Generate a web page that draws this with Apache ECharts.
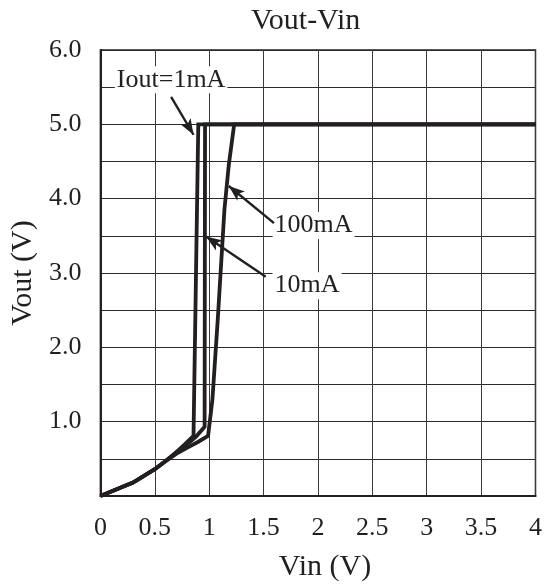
<!DOCTYPE html>
<html>
<head>
<meta charset="utf-8">
<script src="https://cdn.jsdelivr.net/npm/echarts@6/dist/echarts.min.js"></script>
<style>html,body{margin:0;padding:0;background:#fff}#c{width:545px;height:587px}</style>
</head>
<body>
<div id="c"></div>
<script>
// Vin / Vout values for each output current
const vin1mA   = [0, 0.1, 0.2, 0.3, 0.4, 0.5, 0.6, 0.65, 0.72, 0.78, 0.856, 0.9, 4.0];
const vout1mA  = [0, 0.06, 0.12, 0.18, 0.27, 0.36, 0.47, 0.53, 0.62, 0.70, 0.81, 5.0, 5.0];
const vin10mA  = [0, 0.1, 0.2, 0.3, 0.4, 0.5, 0.6, 0.65, 0.72, 0.8, 0.88, 0.958, 0.962, 4.0];
const vout10mA = [0, 0.06, 0.12, 0.18, 0.27, 0.36, 0.47, 0.53, 0.61, 0.70, 0.80, 0.93, 5.0, 5.0];
const vin100mA  = [0, 0.1, 0.2, 0.3, 0.4, 0.5, 0.6, 0.7, 0.8, 0.9, 0.99, 1.03, 1.08, 1.14, 1.18, 1.23, 4.0];
const vout100mA = [0, 0.06, 0.12, 0.18, 0.27, 0.36, 0.47, 0.57, 0.65, 0.73, 0.81, 1.3, 2.4, 3.85, 4.45, 5.0, 5.0];

const xTicks = ['0','0.5','1','1.5','2','2.5','3','3.5','4'];
const yTicks = ['1.0','2.0','3.0','4.0','5.0','6.0'];

// annotations (data space)
const noteText  = ['Iout=1mA', '100mA', '10mA'];
const noteX     = [0.65, 1.96, 1.90];
const noteY     = [5.60, 3.64, 2.83];
const arrowFromX = [0.65, 1.596, 1.52];
const arrowFromY = [5.37, 3.67, 2.95];
const arrowToX   = [0.856, 1.18, 0.971];
const arrowToY   = [4.86, 4.17, 3.49];

const FONT = '"Liberation Serif","Times New Roman",serif';
const INK = '#231f20';

function zip(a, b) { return a.map((v, i) => [v, b[i]]); }

const chart = echarts.init(document.getElementById('c'), null, {renderer: 'canvas'});

const curveStyle = {type: 'line', showSymbol: false, symbol: 'none', smooth: false,
  lineStyle: {color: INK, width: 3.8, join: 'miter'}, z: 5, silent: true};

chart.setOption({
  animation: false,
  backgroundColor: '#fff',
  title: {text: 'Vout-Vin', left: 246, top: 1,
    textStyle: {fontFamily: FONT, fontSize: 30, fontWeight: 'normal', color: INK}},
  grid: {left: 95.5, top: 50, right: 8, bottom: 90, show: true, borderColor: INK, borderWidth: 1.5, containLabel: false},
  xAxis: {type: 'value', min: 0, max: 4, interval: 0.5,
    name: 'Vin (V)', nameLocation: 'middle', nameGap: 56,
    nameTextStyle: {fontFamily: FONT, fontSize: 30, color: INK, padding: [0, 0, 0, 14]},
    axisLine: {show: true, lineStyle: {color: INK, width: 2}},
    axisTick: {show: false},
    axisLabel: {fontFamily: FONT, fontSize: 26, color: INK, margin: 19,
      formatter: v => { const s = xTicks.find(t => Math.abs(parseFloat(t) - v) < 1e-6); return s === undefined ? '' : s; }},
    splitLine: {show: true, lineStyle: {color: '#3a3a3a', width: 1}}},
  yAxis: {type: 'value', min: 0, max: 6, interval: 0.5,
    name: 'Vout (V)', nameLocation: 'middle', nameGap: 62, nameRotate: 90,
    nameTextStyle: {fontFamily: FONT, fontSize: 30, color: INK},
    axisLine: {show: true, lineStyle: {color: INK, width: 2}},
    axisTick: {show: false},
    axisLabel: {fontFamily: FONT, fontSize: 26, color: INK, margin: 19,
      formatter: v => { const s = yTicks.find(t => Math.abs(parseFloat(t) - v) < 1e-6); return s === undefined ? '' : s; }},
    splitLine: {show: true, lineStyle: {color: '#2a2a2a', width: 1}}},
  series: [
    Object.assign({name: '1mA', data: zip(vin1mA, vout1mA)}, curveStyle),
    Object.assign({name: '10mA', data: zip(vin10mA, vout10mA)}, curveStyle),
    Object.assign({name: '100mA', data: zip(vin100mA, vout100mA)}, curveStyle),
    {name: 'notes', type: 'scatter', symbolSize: 0, z: 4, silent: true,
      itemStyle: {opacity: 1},
      data: noteText.map((t, i) => ({value: [noteX[i], noteY[i]], name: t})),
      label: {show: true, position: 'inside', formatter: p => p.name, opacity: 1,
        fontFamily: FONT, fontSize: 26, color: INK, backgroundColor: '#fff', padding: [1, 2, 0, 2]},
      markLine: {silent: true, symbol: ['none', 'arrow'], symbolSize: [9, 16], precision: 4,
        label: {show: false}, lineStyle: {color: INK, width: 2.4, type: 'solid', opacity: 1},
        data: noteText.map((t, i) => [{coord: [arrowFromX[i], arrowFromY[i]]}, {coord: [arrowToX[i], arrowToY[i]]}])}}
  ]
});
</script>
</body>
</html>
